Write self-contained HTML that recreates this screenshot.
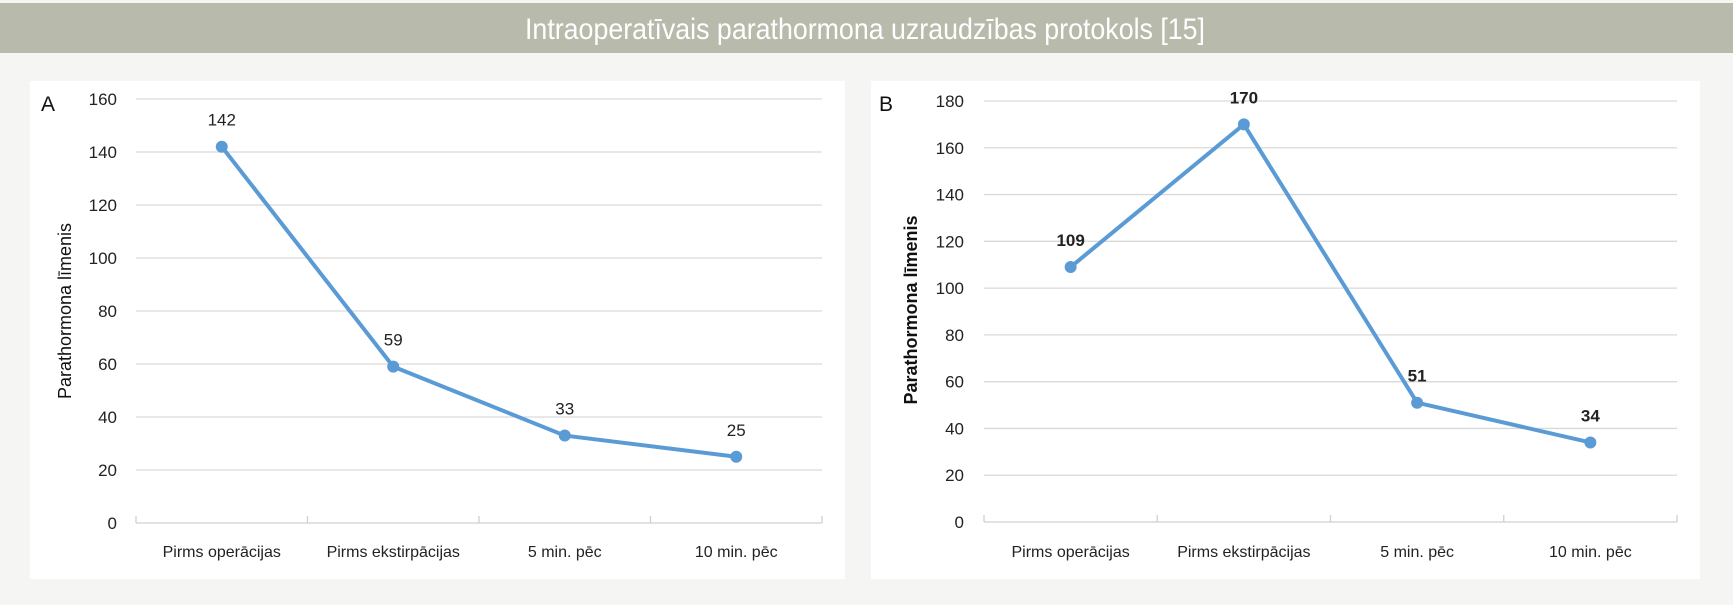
<!DOCTYPE html>
<html><head><meta charset="utf-8"><style>
body{margin:0;background:#f5f5f3;}
svg{display:block;font-family:"Liberation Sans",sans-serif;}
</style></head><body>
<svg id="root" width="1733" height="605" viewBox="0 0 1733 605">
<rect x="0" y="0" width="1733" height="605" fill="#f5f5f3"/>
<rect x="0" y="3" width="1733" height="50" fill="#b8baab"/>
<text x="865" y="39" text-anchor="middle" fill="#ffffff" font-size="30" textLength="680" lengthAdjust="spacingAndGlyphs">Intraoperatīvais parathormona uzraudzības protokols [15]</text>
<rect x="30" y="81" width="815" height="498" fill="#ffffff"/>
<rect x="871" y="81" width="829" height="498" fill="#ffffff"/>
<g id="chartA"></g>
<g id="chartB"></g>
</svg>
<script>
const categories = ["Pirms operācijas","Pirms ekstirpācijas","5 min. pēc","10 min. pēc"];
const seriesA = [142, 59, 33, 25];
const seriesB = [109, 170, 51, 34];
const ticksA = [0,20,40,60,80,100,120,140,160];
const ticksB = [0,20,40,60,80,100,120,140,160,180];
const NS = "http://www.w3.org/2000/svg";
function mk(parent, tag, attrs, txt){
  const e = document.createElementNS(NS, tag);
  for (const k in attrs) e.setAttribute(k, attrs[k]);
  if (txt !== undefined) e.textContent = txt;
  parent.appendChild(e);
  return e;
}
function drawChart(g, cfg, vals, ticks, prefix){
  const maxV = ticks[ticks.length-1];
  const y = v => cfg.y0 - (v/maxV)*(cfg.y0-cfg.yTop);
  const bw = (cfg.x1-cfg.x0)/categories.length;
  const x = i => cfg.x0 + bw*(i+0.5);
  ticks.forEach(t=>{
    if (t>0){
      const l = mk(g,"line",{x1:cfg.x0,x2:cfg.x1,y1:y(t),y2:y(t),stroke:"#d9d9d9","stroke-width":1.3});
      
      
    }
    const tx = mk(g,"text",{x:cfg.tickX,y:y(t)+6,"text-anchor":"end","font-size":17,fill:"#222"},String(t));
    
    
  });
  const ax = mk(g,"line",{x1:cfg.x0,x2:cfg.x1,y1:cfg.y0,y2:cfg.y0,stroke:"#d0d0d0","stroke-width":1.3});
  
  
  for (let i=0;i<=categories.length;i++){
    const tk = mk(g,"line",{x1:cfg.x0+bw*i,x2:cfg.x0+bw*i,y1:cfg.y0,y2:cfg.y0-7,stroke:"#d0d0d0","stroke-width":1.3});
    
    
  }
  categories.forEach((c,i)=>{
    const t = mk(g,"text",{x:x(i),y:557,"text-anchor":"middle","font-size":16,fill:"#222"},c);
    
    
  });
  const pts = vals.map((v,i)=>x(i)+","+y(v)).join(" ");
  const pl = mk(g,"polyline",{points:pts,fill:"none",stroke:"#5b9bd5","stroke-width":4,"stroke-linejoin":"round"});
  
  
  vals.forEach((v,i)=>{
    const c = mk(g,"circle",{cx:x(i),cy:y(v),r:6,fill:"#5b9bd5"});
    
    
    const lb = mk(g,"text",{x:x(i),y:y(v)-21,"text-anchor":"middle","font-size":17,fill:"#222","font-weight":cfg.bold?"bold":"normal"},String(v));
    
    
  });
  const pl2 = mk(g,"text",{x:cfg.letterX,y:111,"font-size":21,fill:"#111"},cfg.letter);
  
  
  const yt = mk(g,"text",{x:0,y:0,"text-anchor":"middle","font-size":18,fill:"#111","font-weight":cfg.bold?"bold":"normal",transform:`translate(${cfg.titleX},${cfg.titleY}) rotate(-90)`},"Parathormona  līmenis");
  
  
}
drawChart(document.getElementById('chartA'),{x0:136,x1:822,y0:523,yTop:99,tickX:117,letter:"A",letterX:41,titleX:71,titleY:311,bold:false},seriesA,ticksA,'series-a');
drawChart(document.getElementById('chartB'),{x0:984,x1:1677,y0:522,yTop:101,tickX:964,letter:"B",letterX:879,titleX:917,titleY:310,bold:true},seriesB,ticksB,'series-b');
</script>
</body></html>
